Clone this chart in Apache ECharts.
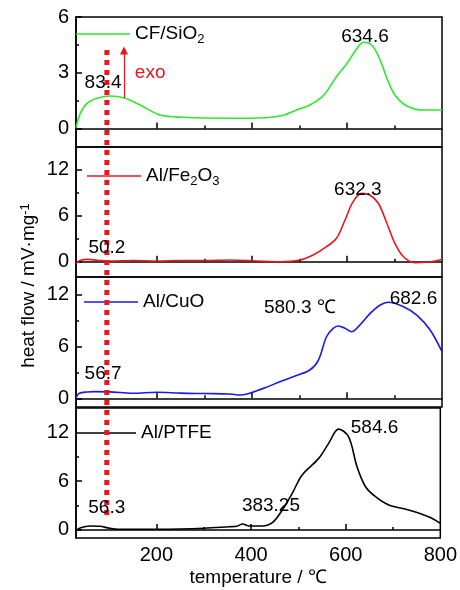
<!DOCTYPE html>
<html>
<head>
<meta charset="utf-8">
<script src="https://cdn.jsdelivr.net/npm/echarts@6/dist/echarts.min.js"></script>
<style>
  html, body { margin: 0; padding: 0; background: #fff; }
  #chart { width: 460px; height: 590px; }
</style>
</head>
<body>
<div id="chart"></div>
<script>
// temperature (℃) / heat flow (mV·mg-1)
const sio2Temp = [30, 39, 53, 74, 102, 130, 165, 207, 256, 354, 396, 459, 494, 522, 547, 560, 571, 585, 600, 621, 635, 652, 670, 684, 701, 726, 761, 800];
const sio2Flow = [0.04, 0.81, 1.35, 1.62, 1.75, 1.65, 1.26, 0.72, 0.6, 0.55, 0.55, 0.67, 0.99, 1.26, 1.68, 2.08, 2.52, 3.02, 3.5, 4.31, 4.64, 4.49, 3.68, 2.7, 1.8, 1.21, 0.99, 0.99];

const fe2o3Temp = [30, 40, 55, 75, 100, 150, 200, 250, 300, 354, 410, 459, 501, 529, 557, 578, 596, 613, 631, 648, 666, 684, 701, 719, 743, 775, 800];
const fe2o3Flow = [-0.2, 0.2, 0.3, 0.2, 0.1, 0.15, 0.1, 0.15, 0.15, 0.22, 0.09, 0, 0.22, 0.88, 1.96, 3.06, 5.45, 7.85, 8.94, 8.72, 7.64, 5.02, 2.4, 0.65, -0.13, 0, 0.3];

const cuoTemp = [30, 37, 53, 70, 100, 150, 200, 250, 300, 354, 375, 424, 459, 491, 522, 540, 557, 571, 582, 596, 610, 624, 649, 670, 687, 719, 747, 775, 800];
const cuoFlow = [0.07, 0.58, 0.73, 0.77, 0.75, 0.58, 0.7, 0.6, 0.55, 0.5, 0.38, 1.15, 1.92, 2.58, 3.27, 4.42, 7.11, 8.08, 8.35, 8.08, 7.69, 8.27, 9.81, 10.77, 11.08, 10.57, 9.6, 7.88, 5.38];

const ptfeTemp = [30, 40, 60, 80, 101, 120, 200, 250, 300, 354, 370, 382, 396, 424, 445, 466, 487, 508, 543, 564, 585, 606, 624, 642, 663, 691, 733, 775, 800];
const ptfeFlow = [-0.1, 0.27, 0.48, 0.45, 0.19, 0.07, 0.07, 0.1, 0.2, 0.39, 0.45, 0.72, 0.48, 0.48, 0.88, 2.45, 4.5, 6.75, 8.8, 10.65, 12.4, 11.47, 7.77, 5.31, 4.08, 3.06, 2.45, 1.62, 0.81];

const xMajor = [200, 400, 600];
const xLabels = [200, 400, 600, 800];
const xMinor = [300, 500, 700];

// peak labels: [panel, text, temperature, flow]
const peakLabels = [
  [0, '83.4', 87, 2.45],
  [0, '634.6', 638, 4.92],
  [1, '50.2', 95, 1.79],
  [1, '632.3', 623, 9.38],
  [2, '56.7', 87, 2.81],
  [2, '580.3 ℃', 501, 10.42],
  [2, '682.6', 740, 11.46],
  [3, '56.3', 95, 2.69],
  [3, '584.6', 661, 12.54],
  [3, '383.25', 442, 2.94]
];

const FONT = '"Liberation Sans", Arial, sans-serif';

const panels = [
  { name: 'CF/SiO2', legendText: 'CF/SiO{sub|2}', color: '#2ee82e', temp: sio2Temp, flow: sio2Flow,
    min: -1, max: 6, major: [0, 3, 6], minor: [1.5, 4.5], top: 17, legendLeft: 76, legendY: 34 },
  { name: 'Al/Fe2O3', legendText: 'Al/Fe{sub|2}O{sub|3}', color: '#e8161c', temp: fe2o3Temp, flow: fe2o3Flow,
    min: -2, max: 15, major: [0, 6, 12], minor: [3, 9], top: 147, legendLeft: 87, legendY: 176 },
  { name: 'Al/CuO', legendText: 'Al/CuO', color: '#1a1ae6', temp: cuoTemp, flow: cuoFlow,
    min: -1, max: 14, major: [0, 6, 12], minor: [3, 9], top: 277, legendLeft: 84, legendY: 302 },
  { name: 'Al/PTFE', legendText: 'Al/PTFE', color: '#000', temp: ptfeTemp, flow: ptfeFlow,
    min: -1, max: 15, major: [0, 6, 12], minor: [3, 9], top: 408, legendLeft: 82, legendY: 433 }
];

const chart = echarts.init(document.getElementById('chart'));

const grids = [];
const xAxes = [];
const yAxes = [];
panels.forEach((p, i) => {
  grids.push({
    left: 76, right: 18, top: p.top, height: 130,
    show: true, borderColor: '#000', borderWidth: 1.5, backgroundColor: 'transparent'
  });
  const last = i === panels.length - 1;
  xAxes.push({
    gridIndex: i, type: 'value', min: 30, max: 800, position: 'bottom',
    axisLine: { show: true, lineStyle: { color: '#000', width: 1.5 } },
    axisTick: { show: true, inside: true, length: 6, customValues: xMajor, lineStyle: { color: '#000', width: 1.5 } },
    axisLabel: { show: last, customValues: xLabels, fontSize: 20, color: '#000', fontFamily: FONT, margin: 7 },
    splitLine: { show: false },
    name: last ? 'temperature / ℃' : '',
    nameLocation: 'middle', nameGap: 30,
    nameTextStyle: { fontSize: 19, color: '#000', fontFamily: FONT }
  });
  xAxes.push({
    gridIndex: i, type: 'value', min: 30, max: 800, position: 'bottom',
    axisLine: { show: false },
    axisTick: { show: true, inside: true, length: 3, customValues: xMinor, lineStyle: { color: '#000', width: 1.5 } },
    axisLabel: { show: false },
    splitLine: { show: false }
  });
  yAxes.push({
    gridIndex: i, type: 'value', min: p.min, max: p.max, position: 'left',
    axisLine: { show: true, lineStyle: { color: '#000', width: 1.5 } },
    axisTick: { show: true, inside: true, length: 6, customValues: p.major, lineStyle: { color: '#000', width: 1.5 } },
    axisLabel: { show: true, customValues: p.major, fontSize: 20, color: '#000', fontFamily: FONT, margin: 7 },
    splitLine: { show: false }
  });
  yAxes.push({
    gridIndex: i, type: 'value', min: p.min, max: p.max, position: 'left',
    axisLine: { show: false },
    axisTick: { show: true, inside: true, length: 3, customValues: p.minor, lineStyle: { color: '#000', width: 1.5 } },
    axisLabel: { show: false },
    splitLine: { show: false }
  });
});

// overlay grid, only carries the shared y title
grids.push({ left: 76, right: 18, top: 25, height: 521 });
xAxes.push({ gridIndex: 4, type: 'value', show: false });
yAxes.push({
  gridIndex: 4, type: 'value', min: 0, max: 1,
  axisLine: { show: false }, axisTick: { show: false }, axisLabel: { show: false }, splitLine: { show: false },
  name: 'heat flow / mV·mg{sup|-1}', nameLocation: 'middle', nameGap: 38,
  nameTextStyle: {
    fontSize: 19, color: '#000', fontFamily: FONT,
    rich: { sup: { fontSize: 13, verticalAlign: 'top', lineHeight: 13, fontFamily: FONT } }
  }
});

const series = panels.map((p, i) => ({
  type: 'line',
  name: p.name,
  xAxisIndex: 2 * i,
  yAxisIndex: 2 * i,
  data: p.temp.map((t, k) => [t, p.flow[k]]),
  symbol: 'none',
  smooth: 0.35,
  lineStyle: { color: p.color, width: 1.6 },
  itemStyle: { color: p.color },
  markLine: i === 0 ? {
    silent: true,
    symbol: ['none', 'triangle'],
    symbolSize: 8,
    label: { show: false },
    lineStyle: { color: '#e8161c', width: 1.2, type: 'solid' },
    data: [[{ coord: [131, 1.64] }, { coord: [131, 4.2] }]]
  } : undefined
}));

const legends = panels.map(p => ({
  data: [p.name],
  left: p.legendLeft,
  top: p.legendY - 12,
  padding: 0,
  icon: 'rect',
  itemWidth: 54,
  itemHeight: 1.6,
  selectedMode: false,
  formatter: () => p.legendText,
  textStyle: {
    fontSize: 19, color: '#000', fontFamily: FONT, lineHeight: 24,
    rich: { sub: { fontSize: 13, verticalAlign: 'bottom', lineHeight: 14, fontFamily: FONT } }
  }
}));

chart.setOption({
  animation: false,
  textStyle: { fontFamily: FONT },
  grid: grids,
  xAxis: xAxes,
  yAxis: yAxes,
  legend: legends,
  series: series
});

// annotations placed through the axes
const px = (gi, pt) => chart.convertToPixel({ xAxisIndex: 2 * gi, yAxisIndex: 2 * gi }, pt);
const dotTop = px(0, [95, 4.22]);
const dotBottom = px(3, [95, 1.46]);
const exoPos = px(0, [186, 2.98]);

const graphics = [
  {
    type: 'line', z: 100, silent: true,
    shape: { x1: dotTop[0], y1: dotTop[1], x2: dotBottom[0], y2: dotBottom[1] },
    style: { stroke: '#e8161c', lineWidth: 5, lineDash: [5, 5], lineCap: 'butt' }
  },
  {
    type: 'text', z: 100, silent: true, x: exoPos[0], y: exoPos[1],
    style: { text: 'exo', fill: '#e8161c', font: '19px ' + FONT, align: 'center', verticalAlign: 'middle' }
  }
];
peakLabels.forEach(([gi, text, t, v]) => {
  const pos = px(gi, [t, v]);
  graphics.push({
    type: 'text', z: 101, silent: true, x: pos[0], y: pos[1],
    style: { text: text, fill: '#000', font: '19px ' + FONT, align: 'center', verticalAlign: 'middle' }
  });
});
chart.setOption({ graphic: graphics });
</script>
</body>
</html>
